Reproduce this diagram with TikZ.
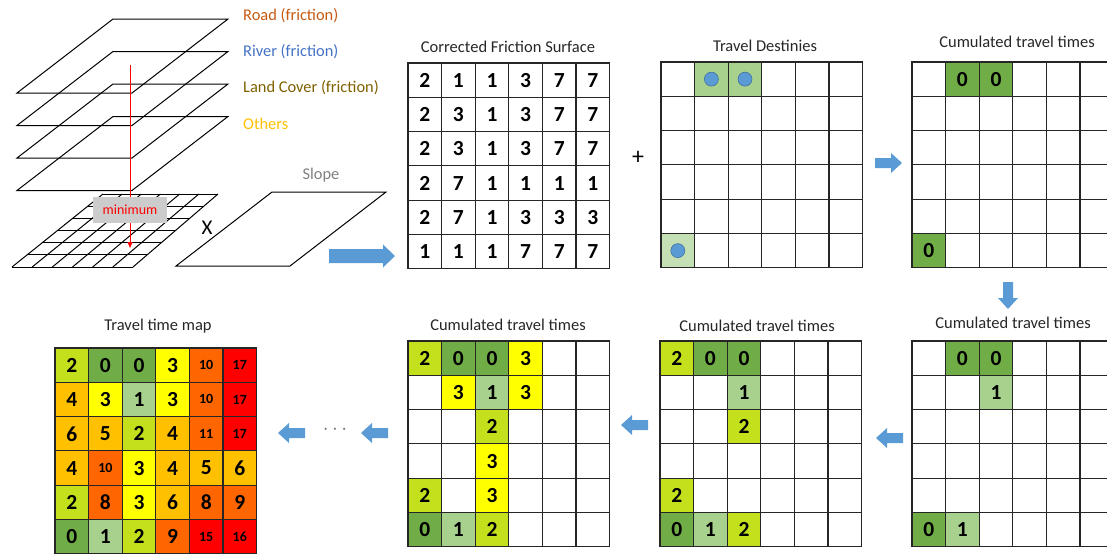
\documentclass[tikz,border=0pt]{standalone}
\usepackage{fontspec}
\setmainfont{Carlito}
\usetikzlibrary{calc,arrows.meta}

\definecolor{dkgreen}{RGB}{112,173,71}
\definecolor{ltgreen}{RGB}{169,209,142}
\definecolor{paleg}{RGB}{197,224,180}
\definecolor{lime}{RGB}{196,224,28}
\definecolor{yel}{RGB}{255,255,0}
\definecolor{org}{RGB}{255,192,0}
\definecolor{dorg}{RGB}{255,102,0}
\definecolor{hot}{RGB}{255,0,0}
\definecolor{arrowblue}{RGB}{91,155,213}
\definecolor{dotblue}{RGB}{65,113,156}
\definecolor{roadc}{RGB}{197,90,17}
\definecolor{riverc}{RGB}{68,114,196}
\definecolor{landc}{RGB}{127,96,0}
\definecolor{otherc}{RGB}{255,192,0}
\definecolor{boxgray}{RGB}{204,204,204}

\newcommand\sm[1]{{\fontsize{14}{16}\selectfont #1}}

% one 6x6 grid: #1 name, #2 left, #3 top, #4 list of row/col/fill/value
\newcommand\drawgrid[4]{%
  \foreach \rr in {1,...,6}{\foreach \cc in {1,...,6}{%
    \node[cell] (#1-\rr-\cc) at ({#2+(\cc-0.5)*33.6},{#3+(\rr-0.5)*34.3}) {};}}
  \foreach \rr/\cc/\ff/\vv in {#4}{%
    \fill[\ff] (#1-\rr-\cc.north west) rectangle (#1-\rr-\cc.south east);
    \node[num] at (#1-\rr-\cc) {\vv};}
  \foreach \rr in {1,...,6}{\foreach \cc in {1,...,6}{%
    \draw[gridline] (#1-\rr-\cc.north west) rectangle (#1-\rr-\cc.south east);}}
}

\tikzset{
  cell/.style={minimum width=33.6pt, minimum height=34.3pt, inner sep=0pt, outer sep=0pt},
  num/.style={inner sep=0pt, font=\fontsize{21.5}{24}\selectfont\bfseries},
  gridline/.style={draw=black!85, line width=1.1pt},
  title/.style={font=\fontsize{16.5}{19}\selectfont, text=black!85},
  layer/.style={draw=black, line width=1pt},
  label/.style={anchor=west, inner sep=0pt, font=\fontsize{16.4}{19}\selectfont},
  bigarrow/.pic={\fill[arrowblue] (0,-7) -- (54,-7) -- (54,-11.5) -- (66,0) -- (54,11.5) -- (54,7) -- (0,7) -- cycle;},
  smallarrow/.pic={\fill[arrowblue] (0,-5) -- (16,-5) -- (16,-10) -- (27,0) -- (16,10) -- (16,5) -- (0,5) -- cycle;},
  dest/.style={circle, fill=arrowblue, draw=dotblue, line width=0.6pt, minimum size=14pt, inner sep=0pt}
}

\begin{document}
\begin{tikzpicture}[x=1pt, y=-1pt]
\useasboundingbox (0,0) rectangle (1107,554);
\clip (0,0) rectangle (1107,554);

% ---- stacked friction layers ----
\foreach \i in {0,...,3}{
  \draw[layer] (113,{19+32.5*\i}) -- ++(115,0) -- ++(-96,74) -- ++(-115,0) -- cycle;
}
\node[label, text=roadc]  (road)  at (243,16)  {Road (friction)};
\node[label, text=riverc] (river) at (243,52)  {River (friction)};
\node[label, text=landc]  (land)  at (243,88)  {Land Cover (friction)};
\node[label, text=otherc] (other) at (243,124) {Others};

% ---- combined raster (skewed grid) ----
\coordinate (tl) at (103,194);
\coordinate (tr) at (218,194);
\coordinate (br) at (133,267);
\coordinate (bl) at (12,267);
\foreach \k in {0,...,6}{
  \draw[layer] ($(tl)!\k/6!(bl)$) -- ($(tr)!\k/6!(br)$);
  \draw[layer] ($(tl)!\k/6!(tr)$) -- ($(bl)!\k/6!(br)$);
}
\coordinate (mintop) at (130,65);
\coordinate (minbot) at (130,248);
\draw[red, line width=0.8pt, -{Triangle[length=6pt,width=5pt]}] (mintop) -- (minbot);
\node[fill=boxgray, minimum width=74pt, minimum height=26pt, inner sep=0pt,
      text=red, font=\fontsize{14}{16}\selectfont] (minimum) at (130,210) {minimum};

% ---- slope layer ----
\draw[layer] (272,192) -- (386,192) -- (290,266) -- (176,266) -- cycle;
\node[text=black!50, font=\fontsize{16.4}{19}\selectfont] (slope) at (321,175) {Slope};
\node[font=\fontsize{21}{24}\selectfont] (times) at (207,228) {X};
\pic at (329,256) {bigarrow};

% ---- corrected friction surface ----
\node[title] (t1) at (508,47) {Corrected Friction Surface};
\drawgrid{fr}{408}{63}{%
  1/1/white/2,1/2/white/1,1/3/white/1,1/4/white/3,1/5/white/7,1/6/white/7,
  2/1/white/2,2/2/white/3,2/3/white/1,2/4/white/3,2/5/white/7,2/6/white/7,
  3/1/white/2,3/2/white/3,3/3/white/1,3/4/white/3,3/5/white/7,3/6/white/7,
  4/1/white/2,4/2/white/7,4/3/white/1,4/4/white/1,4/5/white/1,4/6/white/1,
  5/1/white/2,5/2/white/7,5/3/white/1,5/4/white/3,5/5/white/3,5/6/white/3,
  6/1/white/1,6/2/white/1,6/3/white/1,6/4/white/7,6/5/white/7,6/6/white/7}

\node[font=\fontsize{24}{26}\selectfont] (plus) at (638,158) {+};

% ---- travel destinies ----
\node[title] (t2) at (765,46) {Travel Destinies};
\drawgrid{de}{661}{62}{1/2/ltgreen/{},1/3/ltgreen/{},6/1/paleg/{}}
\node[dest] (d1) at (de-1-2) {};
\node[dest] (d2) at (de-1-3) {};
\node[dest] (d3) at (de-6-1) {};

\pic at (875,163) {smallarrow};

% ---- cumulated travel times, step 0 ----
\node[title] (t3) at (1017,42) {Cumulated travel times};
\drawgrid{ca}{912}{62}{1/2/dkgreen/0,1/3/dkgreen/0,6/1/dkgreen/0}

\pic[rotate=-90] at (1008,282) {smallarrow};

% ---- cumulated travel times, step 1 ----
\node[title] (t4) at (1013,323) {Cumulated travel times};
\drawgrid{cb}{912}{341}{1/2/dkgreen/0,1/3/dkgreen/0,2/3/ltgreen/1,6/1/dkgreen/0,6/2/ltgreen/1}

\pic[rotate=180] at (903,438) {smallarrow};

% ---- cumulated travel times, step 2 ----
\node[title] (t5) at (757,326) {Cumulated travel times};
\drawgrid{cc}{660}{341}{1/1/lime/2,1/2/dkgreen/0,1/3/dkgreen/0,2/3/ltgreen/1,3/3/lime/2,
  5/1/lime/2,6/1/dkgreen/0,6/2/ltgreen/1,6/3/lime/2}

\pic[rotate=180] at (648,425) {smallarrow};

% ---- cumulated travel times, step 3 ----
\node[title] (t6) at (508,325) {Cumulated travel times};
\drawgrid{cd}{408}{341}{1/1/lime/2,1/2/dkgreen/0,1/3/dkgreen/0,1/4/yel/3,
  2/2/yel/3,2/3/ltgreen/1,2/4/yel/3,3/3/lime/2,4/3/yel/3,
  5/1/lime/2,5/3/yel/3,6/1/dkgreen/0,6/2/ltgreen/1,6/3/lime/2}

\pic[rotate=180] at (388,433) {smallarrow};
\node[text=black!55, font=\fontsize{20}{22}\selectfont] (dots) at (335,430) {$\cdots$};
\pic[rotate=180] at (305,433) {smallarrow};

% ---- final travel time map ----
\node[title] (t7) at (158,326) {Travel time map};
\drawgrid{tm}{55}{348}{%
  1/1/lime/2,1/2/dkgreen/0,1/3/dkgreen/0,1/4/yel/3,1/5/dorg/\sm{10},1/6/hot/\sm{17},
  2/1/org/4,2/2/yel/3,2/3/ltgreen/1,2/4/yel/3,2/5/dorg/\sm{10},2/6/hot/\sm{17},
  3/1/org/6,3/2/org/5,3/3/lime/2,3/4/org/4,3/5/dorg/\sm{11},3/6/hot/\sm{17},
  4/1/org/4,4/2/dorg/\sm{10},4/3/yel/3,4/4/org/4,4/5/org/5,4/6/org/6,
  5/1/lime/2,5/2/dorg/8,5/3/yel/3,5/4/org/6,5/5/dorg/8,5/6/dorg/9,
  6/1/dkgreen/0,6/2/ltgreen/1,6/3/lime/2,6/4/dorg/9,6/5/hot/\sm{15},6/6/hot/\sm{16}}
\end{tikzpicture}
\end{document}
